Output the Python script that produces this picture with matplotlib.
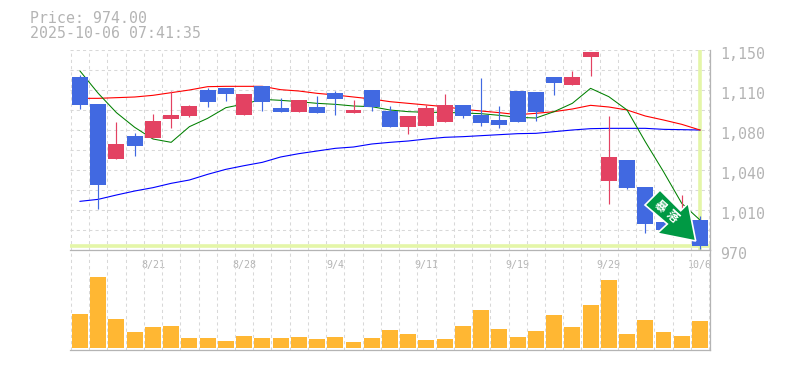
import matplotlib
matplotlib.use("Agg")
import matplotlib.pyplot as plt
from matplotlib.patches import Polygon
from matplotlib.transforms import ScaledTranslation

# daily candles, oldest first
opens = [1125.7, 1101.4, 1051.9, 1072.6, 1070.8, 1087.9, 1090.6, 1114.0, 1115.8, 1091.5,
         1117.6, 1097.8, 1094.2, 1098.7, 1111.3, 1093.3, 1114.0, 1095.1, 1080.7, 1081.6,
         1085.2, 1100.5, 1091.5, 1087.0, 1113.1, 1112.2, 1125.7, 1118.5, 1143.7, 1032.1,
         1051.0, 1026.7, 995.2, 992.5, 997.0]
closes = [1100.5, 1028.5, 1065.4, 1063.6, 1086.1, 1091.5, 1099.6, 1103.2, 1110.4, 1110.4,
          1103.2, 1094.2, 1105.0, 1093.3, 1105.9, 1096.0, 1098.7, 1080.7, 1090.6, 1097.8,
          1100.5, 1090.6, 1084.3, 1082.5, 1085.2, 1094.2, 1120.3, 1125.7, 1148.2, 1053.7,
          1025.8, 993.4, 988.0, 1004.2, 974.0]
highs = [1127.5, 1101.4, 1085.2, 1075.3, 1092.4, 1113.1, 1100.5, 1115.8, 1115.8, 1110.4,
         1117.6, 1106.8, 1105.0, 1108.6, 1113.1, 1105.0, 1114.0, 1099.6, 1090.6, 1100.5,
         1110.4, 1100.5, 1124.8, 1099.6, 1113.1, 1112.2, 1125.7, 1131.1, 1148.2, 1090.6,
         1051.0, 1026.7, 995.2, 1019.5, 1000.6]
lows = [1096.9, 1006.9, 1051.9, 1054.6, 1070.8, 1079.8, 1089.7, 1098.7, 1104.1, 1091.5,
        1095.1, 1094.2, 1094.2, 1093.3, 1091.5, 1093.3, 1095.1, 1080.7, 1074.4, 1081.6,
        1085.2, 1088.8, 1081.6, 1079.8, 1085.2, 1086.1, 1109.5, 1118.5, 1126.6, 1011.4,
        1024.9, 985.3, 988.0, 992.5, 970.9]

ma_red = [1106.5, 1106.5, 1107.1, 1107.7, 1109.2, 1111.6, 1114.0, 1117.0, 1117.3, 1117.3,
          1117.3, 1114.3, 1113.1, 1111.0, 1109.5, 1107.7, 1105.9, 1103.5, 1102.0, 1100.5,
          1099.0, 1096.6, 1095.1, 1093.6, 1091.8, 1093.0, 1094.5, 1096.9, 1100.2, 1098.7,
          1096.0, 1090.6, 1087.0, 1083.1, 1078.0]
ma_green = [1131.1, 1111.0, 1093.6, 1080.4, 1069.9, 1066.9, 1081.0, 1088.5, 1098.1, 1101.4,
            1105.6, 1104.7, 1103.5, 1102.0, 1101.1, 1099.6, 1099.0, 1096.0, 1094.5, 1093.9,
            1093.9, 1093.3, 1092.7, 1091.2, 1089.4, 1088.8, 1094.5, 1102.0, 1115.5, 1108.0,
            1096.0, 1067.5, 1040.5, 1012.0, 997.0]
ma_blue = [1013.8, 1015.6, 1019.5, 1023.1, 1026.1, 1030.0, 1033.0, 1038.1, 1042.6, 1045.9,
           1048.9, 1053.7, 1056.7, 1059.1, 1061.5, 1062.7, 1065.4, 1066.9, 1068.1, 1069.9,
           1071.4, 1072.0, 1072.9, 1073.8, 1074.7, 1075.0, 1076.5, 1078.0, 1079.2, 1079.5,
           1079.5, 1079.5, 1078.6, 1078.3, 1078.0]

volumes = [34.3, 71.3, 29.3, 16.3, 21.3, 22.3, 10.3, 10.3, 7.3, 12.3,
           10.3, 10.3, 11.3, 9.3, 11.3, 6.3, 10.3, 18.3, 14.3, 8.3,
           9.3, 22.3, 38.3, 19.3, 11.3, 17.3, 33.3, 21.3, 43.3, 68.3,
           14.3, 28.3, 16.3, 12.3, 27.3]

date_idx = [4, 9, 14, 19, 24, 29, 34]
date_labels = ["8/21", "8/28", "9/4", "9/11", "9/19", "9/29", "10/6"]
price_ticks = [970, 988, 1006, 1024, 1042, 1060, 1078, 1096, 1114, 1132, 1150]
price_labels = ["970", "", "1,010", "", "1,040", "", "1,080", "", "1,110", "", "1,150"]
last_price = 974.0

GRAY = "#b4b4b4"
GRID = "#d8d8d8"
BLUE = "#4169e1"
RED = "#e34262"
BAND = "#e4f6a8"
W, H = 785, 370
days = list(range(len(opens)))
mono = "DejaVu Sans Mono"

fig = plt.figure(figsize=(W / 100, H / 100), dpi=100)
ax = fig.add_axes([70 / W, 1 - 250 / H, 640 / W, 200 / H])
vol = fig.add_axes([70 / W, 1 - 350 / H, 640 / W, 100 / H], sharex=ax)
vol.patch.set_alpha(0)

# grid lines sit on the boundaries between days
for a in (ax, vol):
    a.set_xticks([d - 0.5 for d in days] + [34.5], minor=True)
    a.grid(which="minor", axis="x", color=GRID, lw=0.75, ls=(0, (3, 3)), zorder=0)
    a.tick_params(which="both", length=0)
    a.set_axisbelow(True)
    for s in ("left", "top", "right", "bottom"):
        a.spines[s].set_visible(False)
    a.spines["right"].set_visible(True)
    a.spines["right"].set_color(GRAY)
    a.spines["bottom"].set_visible(True)
    a.spines["bottom"].set_color(GRAY)
    a.spines["bottom"].set_linewidth(0.9)
    a.spines["right"].set_linewidth(0.9)

ax.set_xlim(-0.548, 34.55)
ax.set_ylim(970, 1150)
ax.yaxis.tick_right()
ax.set_yticks(price_ticks)
ax.set_yticklabels(price_labels, family=mono, fontsize=10.8, color=GRAY)
ax.grid(axis="y", color=GRID, lw=0.75, ls=(0, (3, 3)), zorder=0)
ax.tick_params(axis="y", pad=7)
shift = ScaledTranslation(0, -3 / 100, fig.dpi_scale_trans)
for lab in ax.get_yticklabels():
    lab.set_transform(lab.get_transform() + shift)

ax.set_xticks(date_idx)
ax.set_xticklabels(date_labels, family=mono, fontsize=7.2, color=GRAY)
ax.tick_params(axis="x", pad=7)
ax.grid(which="major", axis="x", visible=False)

# current price markers
ax.axhline(last_price, color=BAND, lw=2.6, zorder=1)
ax.axvline(days[-1], color=BAND, lw=2.6, zorder=1)

ax.plot(days, ma_blue, color="#0000ff", lw=0.8, zorder=2)
ax.plot(days, ma_red, color="#ff0000", lw=0.8, zorder=2)
ax.plot(days, ma_green, color="#008000", lw=0.75, zorder=2)

for i in days:
    c = RED if closes[i] > opens[i] else BLUE
    ax.vlines(i, lows[i], highs[i], color=c, lw=0.85, zorder=3)
    ax.bar(i, abs(closes[i] - opens[i]), bottom=min(opens[i], closes[i]), width=0.875,
           color=c, lw=0, zorder=3, antialiased=False)

vol.set_ylim(-1.7, 98.3)
vol.set_yticks([])
vol.tick_params(labelbottom=False)
vol.bar(days, volumes, width=0.875, color="#ffb733", lw=0, zorder=3, antialiased=False)

fig.text(30 / W, 1 - 18.5 / H, "Price: 974.00", family=mono, fontsize=10.7, color=GRAY, va="center")
fig.text(30 / W, 1 - 33 / H, "2025-10-06 07:41:35", family=mono, fontsize=10.7, color=GRAY, va="center")

# signal arrow, in pixels from the top left of the image
arrow_px = [(660, 190), (645, 205), (667.3, 224), (657.3, 233.3), (695.7, 241), (688.3, 203.3), (680.7, 210.7)]
arrow = Polygon([(x / W, 1 - y / H) for x, y in arrow_px], closed=True, transform=fig.transFigure,
                facecolor="#009944", edgecolor="white", lw=1.2, joinstyle="miter", zorder=10)
fig.add_artist(arrow)
for ch, x, y in zip("暴落", (660, 672), (207, 217)):
    fig.text(x / W, 1 - y / H, ch, family=["Noto Sans CJK JP", "DejaVu Sans"], fontsize=8.5,
             fontweight="bold", color="white", rotation=-42, ha="center", va="center", zorder=11)

fig.savefig("out.png", dpi=100)
